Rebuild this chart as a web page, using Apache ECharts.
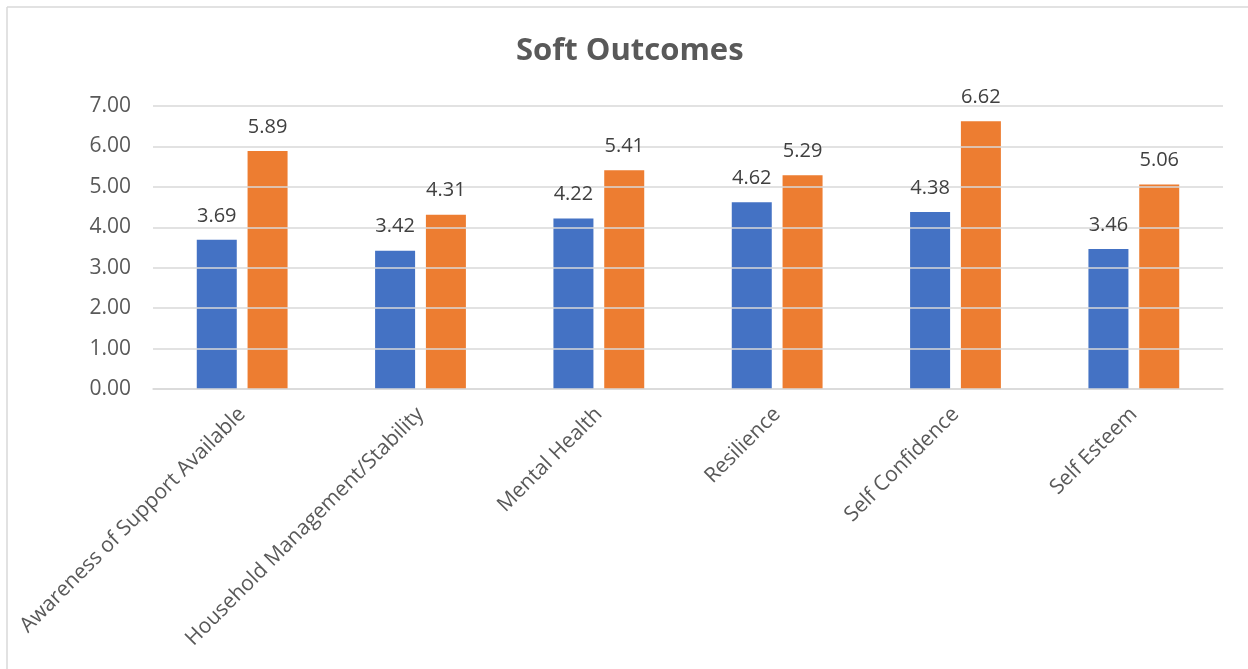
<!DOCTYPE html>
<html>
<head>
<meta charset="utf-8">
<script src="https://cdn.jsdelivr.net/npm/echarts@6/dist/echarts.min.js"></script>
<style>
html,body{margin:0;padding:0;background:#fff;}
#chart{width:1248px;height:669px;}
</style>
</head>
<body>
<div id="chart"></div>
<script>
const categories = ["Awareness of Support Available","Household Management/Stability","Mental Health","Resilience","Self Confidence","Self Esteem"];
const seriesBlue = [3.69, 3.42, 4.22, 4.62, 4.38, 3.46];
const seriesOrange = [5.89, 4.31, 5.41, 5.29, 6.62, 5.06];
const yTicks = [0, 1, 2, 3, 4, 5, 6, 7];

const FONT = '"Open Sans", "Noto Sans", sans-serif';
const chart = echarts.init(document.getElementById('chart'), null, {renderer: 'canvas'});
const labelStyle = {
  show: true, position: 'top', distance: 14,
  color: '#404040', fontSize: 20, fontFamily: FONT,
  formatter: p => p.value.toFixed(2)
};
const yMin = yTicks[0], yMax = yTicks[yTicks.length - 1];
chart.setOption({
  backgroundColor: '#fff',
  animation: false,
  title: {
    text: 'Soft Outcomes', left: 511, top: 31,
    textStyle: {color: '#595959', fontSize: 31, fontWeight: 'bold', fontFamily: FONT}
  },
  graphic: [
    {type: 'line', shape: {x1: 7, y1: 7, x2: 1248, y2: 7}, style: {stroke: '#d9d9d9', lineWidth: 1.5}},
    {type: 'line', shape: {x1: 7, y1: 7, x2: 7, y2: 669}, style: {stroke: '#d9d9d9', lineWidth: 1.5}}
  ],
  grid: {left: 153, right: 25, top: 106, bottom: 280, containLabel: false},
  xAxis: [{
    type: 'category', data: categories,
    axisLine: {show: true, lineStyle: {color: '#d9d9d9', width: 1.5}},
    axisTick: {show: false},
    axisLabel: {rotate: 45, color: '#595959', fontSize: 21, fontFamily: FONT, margin: 22, interval: 0}
  }, {
    type: 'category', data: categories, show: false
  }],
  yAxis: [{
    type: 'value', min: yMin, max: yMax, interval: 1,
    z: 3,
    axisLine: {show: false}, axisTick: {show: false},
    splitLine: {lineStyle: {color: '#d9d9d9', width: 1.5}},
    axisLabel: {color: '#595959', fontSize: 21, fontFamily: FONT, margin: 22, formatter: v => v.toFixed(2)}
  }, {
    type: 'value', min: yMin, max: yMax, interval: 1, show: false, splitLine: {show: false}
  }],
  series: [
    {type: 'bar', data: seriesBlue, barWidth: 40, barGap: '27%', itemStyle: {color: '#4472C4'}, z: 2},
    {type: 'bar', data: seriesOrange, barWidth: 40, barGap: '27%', itemStyle: {color: '#ED7D31'}, z: 2},
    {type: 'bar', data: seriesBlue, xAxisIndex: 1, yAxisIndex: 1, barWidth: 40, barGap: '27%', itemStyle: {color: 'rgba(0,0,0,0)'}, label: labelStyle, z: 5, silent: true},
    {type: 'bar', data: seriesOrange, xAxisIndex: 1, yAxisIndex: 1, barWidth: 40, barGap: '27%', itemStyle: {color: 'rgba(0,0,0,0)'}, label: labelStyle, z: 5, silent: true}
  ]
});
</script>
</body>
</html>
